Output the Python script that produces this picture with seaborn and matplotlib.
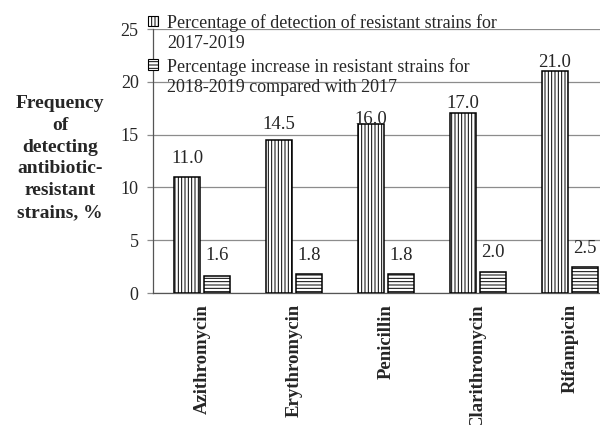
import matplotlib
matplotlib.use("Agg")
import matplotlib.pyplot as plt
from matplotlib.patches import Patch, Rectangle
from matplotlib.legend_handler import HandlerPatch
import seaborn as sns
import pandas as pd

categories = ["Azithromycin", "Erythromycin", "Penicillin", "Clarithromycin", "Rifampicin"]
detection = [11.0, 14.5, 16.0, 17.0, 21.0]
increase = [1.6, 1.8, 1.8, 2.0, 2.5]
series_names = ["Percentage of detection of resistant strains for\n2017-2019",
                "Percentage increase in resistant strains for\n2018-2019 compared with 2017"]
y_ticks = [0, 5, 10, 15, 20, 25]
y_label = "Frequency\nof\ndetecting\nantibiotic-\nresistant\nstrains, %"

df = pd.DataFrame({
    "drug": categories * 2,
    "value": detection + increase,
    "series": [series_names[0]] * len(categories) + [series_names[1]] * len(categories),
})

sns.set_style("white")
plt.rcParams["font.family"] = ["Liberation Serif", "DejaVu Serif"]
plt.rcParams["hatch.linewidth"] = 0.7
FS_LEG = 13
FS_TICK = 13
FS_XT = 13.5
FS_YL = 14
FS_BAR = 13.5

fig = plt.figure(figsize=(6, 4.25), dpi=100)
ax = fig.add_axes([153 / 600, 1 - 293 / 425, 1 - 153 / 600, (293 - 29) / 425])

sns.barplot(data=df, x="drug", y="value", hue="series", order=categories,
            hue_order=series_names, palette=["white", "white"], edgecolor="black",
            linewidth=1.1, width=0.65, gap=0.13, legend=False, ax=ax, zorder=3)

hatches = ["|||||", "-----"]
label_offsets = [[10, 8, 0, 4.3, 2.9], [11.5, 10, 10, 10.8, 10]]
for cont, h, offs in zip(ax.containers, hatches, label_offsets):
    for bar, off in zip(cont, offs):
        bar.set_hatch(h)
        ax.annotate(f"{bar.get_height():.1f}",
                    (bar.get_x() + bar.get_width() / 2, bar.get_height()),
                    xytext=(0, off), textcoords="offset points",
                    ha="center", va="baseline", fontsize=FS_BAR, zorder=5)

ax.set_xlim(-0.533, 4.326)
ax.set_ylim(0, 25)
ax.set_yticks(y_ticks)
ax.yaxis.grid(True, color="#8c8c8c", linewidth=0.9, zorder=0)
ax.set_axisbelow(True)
ax.tick_params(axis="y", which="both", left=True, length=4.3, width=0.9,
               color="#8c8c8c", pad=6, labelsize=FS_TICK)
ax.tick_params(axis="x", length=0, pad=8)
for sp in ["top", "right"]:
    ax.spines[sp].set_visible(False)
ax.spines["left"].set_color("#555555")
ax.spines["bottom"].set_color("#555555")
ax.spines["left"].set_linewidth(0.9)
ax.spines["bottom"].set_linewidth(0.9)
ax.set_xlabel("")
ax.set_ylabel("")
ax.set_xticks(range(len(categories)))
ax.set_xticklabels(categories, rotation=90, ha="center", va="top",
                   fontweight="bold", fontsize=FS_XT)

fig.text(60 / 600, 1 - 158 / 425, y_label, ha="center", va="center",
         multialignment="center", fontweight="bold", fontsize=FS_YL, linespacing=1.37)


def top_patch(legend, orig_handle, xdescent, ydescent, width, height, fontsize):
    # place the square next to the first line of the two-line label
    return Rectangle((-xdescent, -ydescent + 0.68 * fontsize), width, height)


handles = [Patch(facecolor="white", edgecolor="black", linewidth=0.8, hatch=h, label=n)
           for h, n in zip(hatches, series_names)]
leg = ax.legend(handles=handles, loc="upper left", bbox_to_anchor=(148 / 600, 1 - 14 / 425),
                bbox_transform=fig.transFigure, frameon=False, fontsize=FS_LEG,
                handlelength=0.55, handleheight=0.55, handletextpad=0.5,
                labelspacing=0.3, borderpad=0, borderaxespad=0,
                handler_map={Patch: HandlerPatch(patch_func=top_patch)})
for t in leg.get_texts():
    t.set_linespacing(1.27)

fig.savefig("out.png", dpi=100)
